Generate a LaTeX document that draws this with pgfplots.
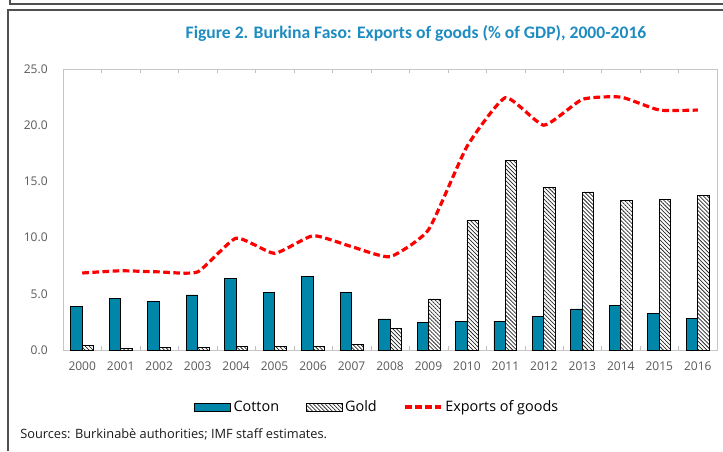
\documentclass[border=0pt]{standalone}
\usepackage{pgfplots}
\pgfplotsset{compat=1.18}
\usetikzlibrary{patterns,patterns.meta}
\usepackage{fontspec}
\setmainfont{Open Sans}
\newfontfamily\titlefont{Carlito}

\definecolor{cottonblue}{RGB}{0,134,168}
\definecolor{titleblue}{RGB}{30,140,192}
\definecolor{ticktext}{RGB}{89,89,89}
\definecolor{framegray}{RGB}{80,80,80}

\begin{document}
\begin{tikzpicture}
% canvas in pixels of the reference, y downwards
\begin{scope}[x=0.75pt, y=-0.75pt]
  \path[use as bounding box] (0,0) rectangle (723,451);
  \draw[framegray, line width=1.2pt] (10,0) -- (10,4) -- (723,4);
  \draw[framegray, line width=1.2pt] (8,451) -- (8,10) -- (723,10);
  \node[font=\titlefont\bfseries\fontsize{13.2}{15}\selectfont, text=titleblue] at (416,33)
    {Figure 2. Burkina Faso: Exports of goods (\% of GDP), 2000-2016};
  \node[anchor=west, font=\fontsize{9.6}{11}\selectfont, text=black!90, inner sep=0pt] at (20,434)
    {Sources: Burkinabè authorities; IMF staff estimates.};
\end{scope}

\begin{axis}[
    at={(47.25pt,-262.5pt)}, anchor=south west,
    scale only axis,
    width=490.5pt, height=210.75pt,
    ybar=0pt, bar width=8.6pt,
    xmin=-0.5, xmax=16.5,
    ymin=0, ymax=25,
    xtick={0,...,16},
    xticklabels={2000,2001,2002,2003,2004,2005,2006,2007,2008,2009,2010,2011,2012,2013,2014,2015,2016},
    minor xtick={-0.5,0.5,...,16.5},
    ytick={0,5,10,15,20,25},
    major tick length=0pt,
    minor tick length=3pt,
    tick align=inside,
    minor tick style={gray!50},
    axis line style={gray!45},
    tick label style={text=ticktext, font=\fontsize{9}{10}\selectfont},
    yticklabel style={xshift=-8pt},
    xticklabel style={yshift=-5pt},
    /pgf/number format/.cd, fixed, fixed zerofill, precision=1, assume math mode=true,
    /pgfplots/.cd,
    legend columns=-1,
    legend style={at={(0.481,-0.203)}, anchor=center, draw=none, fill=none,
        font=\fontsize{10.8}{12}\selectfont,
        /tikz/every even column/.append style={column sep=18pt}},
]
% Cotton
\addplot[fill=cottonblue, draw=black, line width=0.6pt,
    legend image code/.code={\draw[fill=cottonblue, draw=black, line width=0.5pt] (0pt,-3pt) rectangle (27pt,3pt);}]
  coordinates {
    (0,3.85) (1,4.6) (2,4.33) (3,4.9) (4,6.35) (5,5.1) (6,6.55) (7,5.1)
    (8,2.76) (9,2.46) (10,2.58) (11,2.58) (12,2.97) (13,3.65) (14,3.94)
    (15,3.26) (16,2.79)
  };
% Gold
\addplot[pattern={Lines[angle=-45, distance=2.1pt, line width=0.55pt]}, pattern color=black!85, draw=black, line width=0.6pt,
    legend image code/.code={\draw[pattern={Lines[angle=-45, distance=2.1pt, line width=0.55pt]}, pattern color=black!85, draw=black, line width=0.5pt] (0pt,-3pt) rectangle (27pt,3pt);}]
  coordinates {
    (0,0.4) (1,0.1) (2,0.2) (3,0.2) (4,0.3) (5,0.35) (6,0.35) (7,0.5)
    (8,1.9) (9,4.54) (10,11.54) (11,16.9) (12,14.5) (13,14.06) (14,13.3)
    (15,13.37) (16,13.76)
  };
% Exports of goods
\addplot[sharp plot, red, line width=2.4pt, dash pattern=on 5pt off 2.6pt, smooth, tension=0.3,
    legend image code/.code={\draw[red, line width=2.4pt, dash pattern=on 5pt off 2.6pt] (0pt,0pt) -- (27pt,0pt);}]
  coordinates {
    (0,6.85) (1,7.05) (2,6.95) (3,6.95) (4,9.95) (5,8.6) (6,10.17) (7,9.2)
    (8,8.3) (9,10.7) (10,18.1) (11,22.45) (12,20.0) (13,22.3) (14,22.5)
    (15,21.35) (16,21.35)
  };
\legend{Cotton, Gold, Exports of goods}
\end{axis}
\end{tikzpicture}
\end{document}
